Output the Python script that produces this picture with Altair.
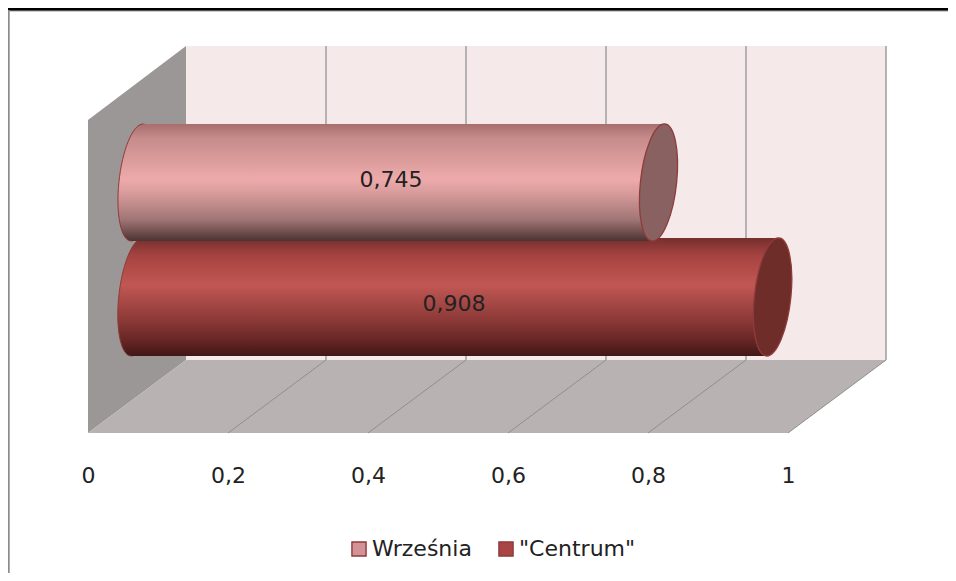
import altair as alt
import pandas as pd

series = ["Września", '"Centrum"']
values = [0.745, 0.908]
ticks = [0, 0.2, 0.4, 0.6, 0.8, 1]
legend_colors = ["#d39295", "#a94544"]
cap_colors = ["#8a6161", "#6f2d2a"]
stops = [
    [(0, "#a86e6e"), (0.12, "#c68b8b"), (0.47, "#eeaaaa"), (0.6, "#d69a9a"), (0.82, "#a07474"), (1, "#4c3232")],
    [(0, "#752f2d"), (0.15, "#a64341"), (0.4, "#c15753"), (0.68, "#8f3b39"), (0.88, "#642523"), (1, "#401716")],
]

FONT = "DejaVu Sans"
PX = 700.0                      # plot px per unit of value
DEPTH = 98 / PX                 # back wall shift
MID = 49 / PX                   # cylinders stand half way in depth
X0 = 88.0
XMIN, XMAX = (8 - X0) / PX, (948 - X0) / PX
YTOP, YBOT = 8, 433

xs = alt.Scale(domain=[XMIN, XMAX], nice=False, zero=False)
ys = alt.Scale(domain=[YTOP, YBOT], reverse=True, nice=False, zero=False)
x_axis = alt.Axis(
    values=ticks, format=".1~f", labelExpr="replace(datum.label, '.', ',')",
    ticks=False, domain=False, grid=False, labelFont=FONT, labelFontSize=22,
    labelColor="#222222", labelPadding=32, labelAngle=0, title=None,
)
X = lambda f: alt.X(f, type="quantitative", scale=xs, axis=x_axis, title=None)
Y = lambda f: alt.Y(f, type="quantitative", scale=ys, axis=None, title=None)
X2 = lambda f: alt.X2(f)
Y2 = lambda f: alt.Y2(f)


def rules(rows, color, width):
    return alt.Chart(pd.DataFrame(rows, columns=["a", "a2", "b", "b2"])).mark_rule(
        color=color, strokeWidth=width, clip=False
    ).encode(x=X("a"), x2=X2("a2"), y=Y("b"), y2=Y2("b2"))


def ellipse(half_w=0.31, shear=0.10):
    k = 0.5523
    def p(c, s):
        return f"{half_w * c - shear * s:.4f},{s:.4f}"
    return (
        f"M{p(1,0)}C{p(1,k)} {p(k,1)} {p(0,1)}"
        f"C{p(-k,1)} {p(-1,k)} {p(-1,0)}"
        f"C{p(-1,-k)} {p(-k,-1)} {p(0,-1)}"
        f"C{p(k,-1)} {p(1,-k)} {p(1,0)}Z"
    )


def grad(i):
    return alt.Gradient(
        gradient="linear", x1=0, x2=0, y1=0, y2=1,
        stops=[alt.GradientStop(offset=o, color=c) for o, c in stops[i]],
    )


# ---- walls and floor
left_wall = alt.Chart(pd.DataFrame({"a": [0, DEPTH], "b": [120, 46], "b2": [433, 360]})).mark_area(
    color="#9b9796", clip=False,
).encode(x=X("a"), y=Y("b"), y2=Y2("b2"))

floor = alt.Chart(pd.DataFrame({
    "a": [0, DEPTH, 1, 1 + DEPTH], "b": [433, 360, 360, 360], "b2": [433, 433, 433, 360],
})).mark_area(color="#b9b2b2").encode(x=X("a"), y=Y("b"), y2=Y2("b2"))

back = alt.Chart(pd.DataFrame({"a": [DEPTH], "a2": [1 + DEPTH], "b": [46], "b2": [360]})).mark_rect(
    color="#f5e9e9"
).encode(x=X("a"), x2=X2("a2"), y=Y("b"), y2=Y2("b2"))

grid_back = rules([(t + DEPTH, t + DEPTH, 46, 360) for t in ticks[1:]], "#a3a3a3", 1.6)
grid_floor = rules([(t, t + DEPTH, 433, 360) for t in ticks[1:]], "#8f8f8f", 1)
frame = [
    rules([(XMIN, XMAX, 10.8, 10.8)], "#a0a0a0", 1.4),
    rules([(XMIN, XMAX, 9.2, 9.2)], "#000000", 2.6),
    rules([(XMIN + 0.7 / PX, XMIN + 0.7 / PX, 10, 573)], "#8c8c8c", 2),
]


# ---- cylinders
def cylinder(i, cy, half, label_x, label_y):
    v = values[i]
    tilt = 6 / PX
    shape = ellipse()
    size = (2 * half) ** 2
    stroke = "#8f3b3b"
    body = alt.Chart(pd.DataFrame({
        "b": [cy - half, cy + half],
        "a": [MID + tilt, MID - tilt],
        "a2": [v + MID + tilt, v + MID - tilt],
    })).mark_area(orient="horizontal", color=grad(i)).encode(
        y=Y("b"), x=X("a"), x2=X2("a2")
    )
    start = alt.Chart(pd.DataFrame({"a": [MID], "b": [cy]})).mark_point(
        shape=shape, size=size, filled=True, fill=grad(i), stroke=stroke, strokeWidth=1, opacity=1
    ).encode(x=X("a"), y=Y("b"))
    end = alt.Chart(pd.DataFrame({"a": [v + MID], "b": [cy]})).mark_point(
        shape=shape, size=size, filled=True, fill=cap_colors[i], stroke=stroke, strokeWidth=1.3, opacity=1
    ).encode(x=X("a"), y=Y("b"))
    label = alt.Chart(pd.DataFrame({
        "a": [label_x], "b": [label_y], "t": [f"{v:.3f}".replace(".", ",")]
    })).mark_text(font=FONT, fontSize=22, color="#222222", align="center", baseline="middle").encode(
        x=X("a"), y=Y("b"), text="t:N"
    )
    return [start, body, end, label]


lower = cylinder(1, 297, 59, (454 - X0) / PX, 304)
upper = cylinder(0, 182.5, 58.5, (391 - X0) / PX, 180)

# ---- legend
legend_layer = alt.Chart(pd.DataFrame({"s": series, "a": [0.0, 0.0], "b": [433, 433]})).mark_square(
    size=0, opacity=0
).encode(
    x=X("a"), y=Y("b"),
    fill=alt.Fill("s:N", sort=series, scale=alt.Scale(domain=series, range=legend_colors), legend=alt.Legend(
        title=None, orient="none", legendX=340, legendY=530, direction="horizontal", columns=2,
        symbolType="square", symbolSize=200, symbolOpacity=1, symbolStrokeColor="#8f3b3b",
        symbolStrokeWidth=1.4, labelFont=FONT, labelFontSize=22, labelColor="#222222",
        labelOffset=2, columnPadding=23,
    )),
)

chart = alt.layer(
    left_wall, back, floor, grid_back, grid_floor, *frame, *lower, *upper, legend_layer
).properties(
    width=940, height=425, background="white",
    padding={"left": 0, "top": 0, "right": 0, "bottom": 140},
    autosize=alt.AutoSizeParams(type="none"),
).configure_view(stroke=None)

chart.save("out.html", embed_options={"renderer": "svg", "actions": False})
